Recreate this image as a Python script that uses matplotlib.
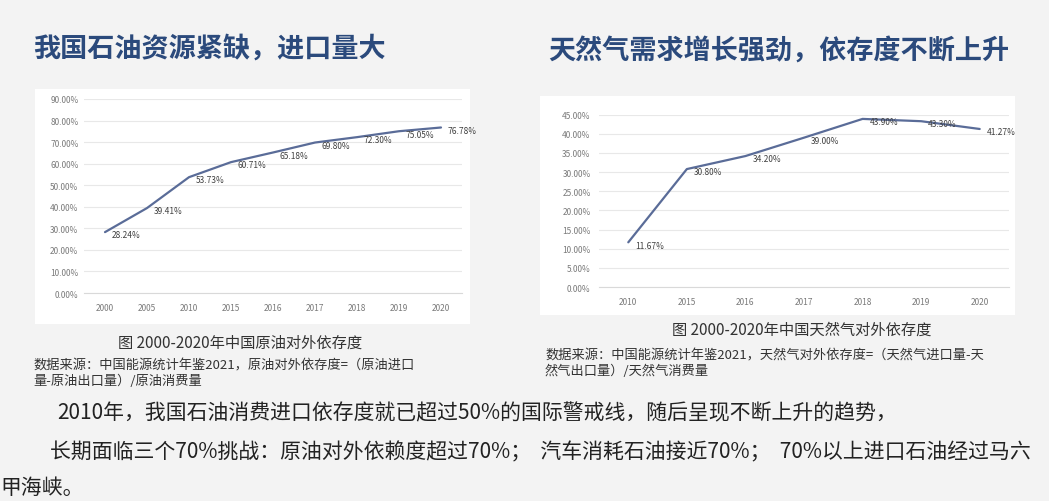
import numpy as np
import matplotlib
matplotlib.use('Agg')
from matplotlib import pyplot as plt
from matplotlib.patches import Rectangle
from matplotlib.ticker import FuncFormatter

plt.rcParams['font.family'] = ['Noto Sans CJK SC', 'DejaVu Sans']

# 原油对外依存度 (%)
oil_years = ['2000', '2005', '2010', '2015', '2016', '2017', '2018', '2019', '2020']
oil_dep = [28.24, 39.41, 53.73, 60.71, 65.18, 69.80, 72.30, 75.05, 76.78]

# 天然气对外依存度 (%)
gas_years = ['2010', '2015', '2016', '2017', '2018', '2019', '2020']
gas_dep = [11.67, 30.80, 34.20, 39.00, 43.90, 43.30, 41.27]

W, H = 1049, 502
line_color = '#5a6c98'
title_color = '#2b4a7c'


def fx(x):
    return x / W


def fy(y):
    return 1 - y / H


def draw_panel(ax, years, vals, ymax, ystep, ypad):
    xs = np.arange(len(years))
    ax.plot(xs, vals, color=line_color, lw=1.6, solid_capstyle='round')
    for xi, v in zip(xs, vals):
        ax.annotate(f'{v:.2f}%', (xi, v), xytext=(5, -2), textcoords='offset points',
                    fontsize=6, ha='left', va='center', color='#404040')
    ax.set_xticks(xs)
    ax.set_xticklabels(years)
    ax.set_xlim(-0.5, len(years) - 0.5)
    ax.set_ylim(0, ymax)
    ax.set_yticks(np.arange(0, ymax + 0.01, ystep))
    ax.yaxis.set_major_formatter(FuncFormatter(lambda v, p: f'{v:.2f}%'))
    ax.grid(axis='y', color='#e8e8e8', lw=0.8)
    ax.set_axisbelow(True)
    for s in ['top', 'right', 'left']:
        ax.spines[s].set_visible(False)
    ax.spines['bottom'].set_color('#d9d9d9')
    ax.set_facecolor('white')
    ax.tick_params(axis='both', length=0, labelsize=6, labelcolor='#7a7a7a')
    ax.tick_params(axis='x', pad=7)
    ax.tick_params(axis='y', pad=ypad)


fig = plt.figure(figsize=(W / 100, H / 100), dpi=100, facecolor='#f3f3f3')

# white chart panels
fig.add_artist(Rectangle((fx(35), fy(325)), (470 - 35) / W, (325 - 90) / H,
                         transform=fig.transFigure, facecolor='white', edgecolor='none', zorder=0))
fig.add_artist(Rectangle((fx(540), fy(316)), (1015 - 540) / W, (316 - 97) / H,
                         transform=fig.transFigure, facecolor='white', edgecolor='none', zorder=0))

ax1 = fig.add_axes([fx(84), fy(294), (462 - 84) / W, (294 - 100) / H])
draw_panel(ax1, oil_years, oil_dep, 90, 10, 4)

ax2 = fig.add_axes([fx(599), fy(288), (1009 - 599) / W, (288 - 115.7) / H])
draw_panel(ax2, gas_years, gas_dep, 45, 5, 6)

# titles
fig.text(fx(33), fy(49), '我国石油资源紧缺，进口量大', fontsize=19.5, fontweight='bold',
         color=title_color, ha='left', va='center')
fig.text(fx(548), fy(51), '天然气需求增长强劲，依存度不断上升', fontsize=19.5, fontweight='bold',
         color=title_color, ha='left', va='center')

# captions and sources
fig.text(fx(240), fy(343), '图 2000-2020年中国原油对外依存度', fontsize=11, color='#333333',
         ha='center', va='center')
fig.text(fx(802), fy(330), '图 2000-2020年中国天然气对外依存度', fontsize=11, color='#333333',
         ha='center', va='center')
fig.text(fx(33), fy(366), '数据来源：中国能源统计年鉴2021，原油对外依存度=（原油进口', fontsize=9.5,
         color='#333333', ha='left', va='center')
fig.text(fx(33), fy(381), '量-原油出口量）/原油消费量', fontsize=9.5,
         color='#333333', ha='left', va='center')
fig.text(fx(545), fy(356), '数据来源：中国能源统计年鉴2021，天然气对外依存度=（天然气进口量-天', fontsize=9.5,
         color='#333333', ha='left', va='center')
fig.text(fx(545), fy(371), '然气出口量）/天然气消费量', fontsize=9.5,
         color='#333333', ha='left', va='center')

# body text
fig.text(fx(57), fy(413), '2010年，我国石油消费进口依存度就已超过50%的国际警戒线，随后呈现不断上升的趋势，',
         fontsize=15, color='#222222', ha='left', va='center')
fig.text(fx(50), fy(452), '长期面临三个70%挑战：原油对外依赖度超过70%；  汽车消耗石油接近70%；  70%以上进口石油经过马六',
         fontsize=15, color='#222222', ha='left', va='center')
fig.text(fx(0), fy(488), '甲海峡。', fontsize=15, color='#222222', ha='left', va='center')

fig.savefig('out.png', dpi=100, facecolor=fig.get_facecolor())
